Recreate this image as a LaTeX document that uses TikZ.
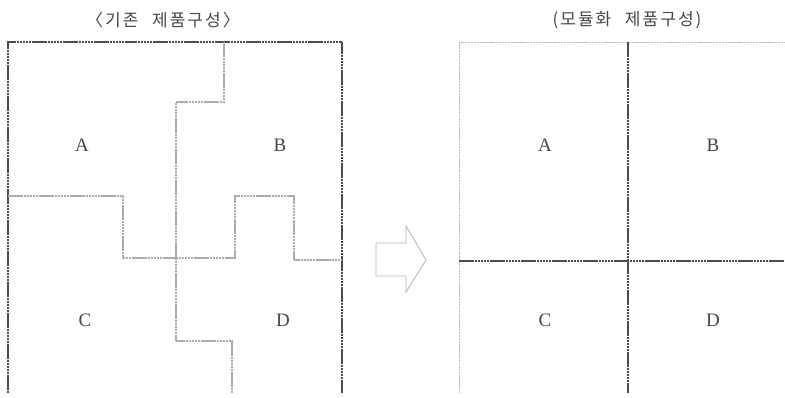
\documentclass[tikz,border=0pt]{standalone}
\usepackage{fontspec}
\setmainfont{Liberation Serif}
\newfontfamily\krfont[LetterSpace=12]{Noto Sans CJK KR}
\begin{document}
\begin{tikzpicture}[x=1pt,y=-1pt,
  edge/.style={draw=gray!65,line width=1.1pt,dash pattern=on 2.5pt off 0.6pt},
  darkedge/.style={draw=gray!60!black,line width=1.2pt,dash pattern=on 2.5pt off 0.6pt},
  lightedge/.style={draw=gray!50,line width=1pt,dash pattern=on 2.5pt off 0.6pt},
  title/.style={font=\krfont\fontsize{17}{19}\selectfont,text=gray!55!black,inner sep=0pt},
  lbl/.style={font=\fontsize{19}{21}\selectfont,text=gray!55!black,inner sep=0pt}]
\useasboundingbox (0,0) rectangle (785,397);
% titles
\node[title] (t1) at (163,20) {〈기존\hspace{0.8em}제품구성〉};
\node[title] (t2) at (627,20) {(모듈화\hspace{0.8em}제품구성)};
% left box
\draw[darkedge] (8,393) -- (8,42) -- (342,42) -- (342,393);
\draw[edge] (224,42) -- (224,102) -- (176,102) -- (176,341) -- (232,341) -- (232,393);
\draw[edge] (8,196) -- (123,196) -- (123,258) -- (235,258) -- (235,196) -- (294,196) -- (294,260) -- (342,260);
\node[lbl] (la) at (82,145) {A};
\node[lbl] (lb) at (280,145) {B};
\node[lbl] (lc) at (85,320) {C};
\node[lbl] (ld) at (283,320) {D};
% arrow
\draw[draw=gray!60,line width=0.8pt] (376,243) -- (406,243) -- (406,226) -- (426,260) -- (406,292) -- (406,276) -- (376,276) -- cycle;
% right box
\draw[lightedge] (459,393) -- (459,42) -- (785,42);
\draw[darkedge] (628,42) -- (628,393);
\draw[darkedge] (459,261) -- (785,261);
\node[lbl] (ra) at (545,145) {A};
\node[lbl] (rb) at (713,145) {B};
\node[lbl] (rc) at (545,320) {C};
\node[lbl] (rd) at (713,320) {D};
\end{tikzpicture}
\end{document}
